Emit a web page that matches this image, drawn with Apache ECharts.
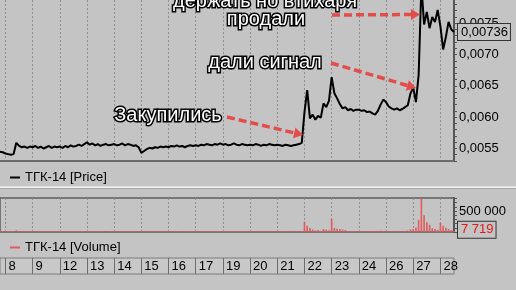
<!DOCTYPE html>
<html><head><meta charset="utf-8">
<script src="https://cdn.jsdelivr.net/npm/echarts@6/dist/echarts.min.js"></script>
<style>html,body{margin:0;padding:0;background:#c4c4c4}#c{width:516px;height:290px}</style>
</head><body><div id="c"></div>
<script>
// ---- tick labels (trading days) ----
const days = ['8','9','12','13','14','15','16','17','19','20','21','22','23','24','26','27','28'];
const preDay = '7';

// ---- price (close) per day ----
const pricePre = [0.00545, 0.00544];
const price08 = [0.00542, 0.00541, 0.00540, 0.00541, 0.00559, 0.00554, 0.00552, 0.00553, 0.00551, 0.00553];
const price09 = [0.00552, 0.00554, 0.00551, 0.00553, 0.00550, 0.00552, 0.00554, 0.00551, 0.00553, 0.00552];
const price12 = [0.00553, 0.00551, 0.00554, 0.00552, 0.00555, 0.00553, 0.00554, 0.00556, 0.00554, 0.00557];
const price13 = [0.00560, 0.00556, 0.00558, 0.00555, 0.00557, 0.00554, 0.00556, 0.00557, 0.00555, 0.00556];
const price14 = [0.00557, 0.00555, 0.00556, 0.00558, 0.00555, 0.00557, 0.00556, 0.00554, 0.00555, 0.00552];
const price15 = [0.00543, 0.00546, 0.00549, 0.00551, 0.00550, 0.00552, 0.00551, 0.00553, 0.00552, 0.00553];
const price16 = [0.00552, 0.00554, 0.00553, 0.00555, 0.00553, 0.00554, 0.00552, 0.00554, 0.00555, 0.00554];
const price17 = [0.00555, 0.00554, 0.00556, 0.00555, 0.00557, 0.00556, 0.00555, 0.00557, 0.00556, 0.00558];
const price19 = [0.00556, 0.00557, 0.00555, 0.00556, 0.00558, 0.00556, 0.00555, 0.00557, 0.00556, 0.00555];
const price20 = [0.00556, 0.00555, 0.00557, 0.00556, 0.00554, 0.00556, 0.00555, 0.00557, 0.00556, 0.00555];
const price21 = [0.00556, 0.00555, 0.00554, 0.00556, 0.00555, 0.00554, 0.00555, 0.00556, 0.00557, 0.00559];
const price22 = [0.00608, 0.00643, 0.00598, 0.00604, 0.00596, 0.00602, 0.00599, 0.00622, 0.00616, 0.00626];
const price23 = [0.00664, 0.00638, 0.00630, 0.00621, 0.00614, 0.00616, 0.00611, 0.00613, 0.00610, 0.00612];
const price24 = [0.00612, 0.00610, 0.00611, 0.00608, 0.00609, 0.00606, 0.00604, 0.00610, 0.00620, 0.00628];
const price26 = [0.00624, 0.00617, 0.00614, 0.00612, 0.00614, 0.00611, 0.00613, 0.00616, 0.00619, 0.00638];
const price27 = [0.00647, 0.00624, 0.00668, 0.00810, 0.00748, 0.00768, 0.00742, 0.00760, 0.00752, 0.00771];
const price28 = [0.00745, 0.00708, 0.00728, 0.00752, 0.00740, 0.00736];

// ---- volume per day ----
const volPre = [12000, 8000];
const vol08 = [9000, 6000, 14000, 5000, 38000, 11000, 7000, 9000, 4000, 8000];
const vol09 = [6000, 10000, 5000, 8000, 12000, 4000, 7000, 9000, 5000, 6000];
const vol12 = [8000, 5000, 11000, 6000, 9000, 13000, 5000, 7000, 10000, 15000];
const vol13 = [22000, 9000, 6000, 8000, 12000, 5000, 9000, 7000, 6000, 10000];
const vol14 = [7000, 9000, 14000, 6000, 8000, 5000, 10000, 7000, 12000, 18000];
const vol15 = [26000, 14000, 9000, 7000, 11000, 6000, 8000, 5000, 9000, 7000];
const vol16 = [6000, 8000, 5000, 9000, 7000, 10000, 6000, 8000, 5000, 7000];
const vol17 = [9000, 6000, 11000, 7000, 5000, 8000, 12000, 6000, 9000, 7000];
const vol19 = [8000, 5000, 7000, 10000, 6000, 9000, 5000, 8000, 11000, 6000];
const vol20 = [7000, 9000, 6000, 8000, 12000, 5000, 7000, 9000, 6000, 8000];
const vol21 = [10000, 7000, 9000, 6000, 8000, 11000, 7000, 9000, 14000, 20000];
const vol22 = [245000, 150000, 95000, 60000, 35000, 48000, 30000, 70000, 55000, 40000];
const vol23 = [310000, 95000, 80000, 70000, 60000, 45000, 25000, 15000, 12000, 10000];
const vol24 = [8000, 12000, 6000, 9000, 7000, 10000, 14000, 22000, 30000, 25000];
const vol26 = [30000, 18000, 12000, 9000, 14000, 10000, 16000, 22000, 35000, 60000];
const vol27 = [70000, 110000, 290000, 800000, 400000, 230000, 170000, 90000, 70000, 50000];
const vol28 = [215000, 150000, 100000, 70000, 45000, 7719];

const priceDays = [price08, price09, price12, price13, price14, price15, price16, price17, price19, price20, price21, price22, price23, price24, price26, price27, price28];
const volDays = [vol08, vol09, vol12, vol13, vol14, vol15, vol16, vol17, vol19, vol20, vol21, vol22, vol23, vol24, vol26, vol27, vol28];

const cats = [], price = [], volume = [], dayStart = new Set();
pricePre.forEach((v, k) => { cats.push(preDay + '/' + k); price.push(v); volume.push(volPre[k]); });
days.forEach((d, i) => {
  dayStart.add(cats.length);
  priceDays[i].forEach((v, k) => { cats.push(d + '/' + k); price.push(v); volume.push(volDays[i][k]); });
});
const lastPrice = price[price.length - 1];
const lastVol = volume[volume.length - 1];

const FONT = '"Liberation Sans", Arial, sans-serif';
const BG = '#c4c4c4';
const isDay = (idx) => dayStart.has(idx);
const fmtSpace = (n) => String(Math.round(n)).replace(/\B(?=(\d{3})+(?!\d))/g, ' ');

// annotation arrows
const RED = '#e44c4c';
function arrow(x1, y1, x2, y2) {
  const dx = x2 - x1, dy = y2 - y1, L = Math.hypot(dx, dy), ux = dx / L, uy = dy / L;
  const hl = 9, hw = 5.5, bx = x2 - ux * hl, by = y2 - uy * hl;
  return [
    { type: 'line', z: 100, shape: { x1, y1, x2: bx, y2: by }, style: { stroke: RED, lineWidth: 3.5, lineDash: [8, 4] } },
    { type: 'polygon', z: 100, shape: { points: [[x2, y2], [bx - uy * hw, by + ux * hw], [bx + uy * hw, by - ux * hw]] }, style: { fill: RED } }
  ];
}
function note(text, x, y) {
  return { type: 'text', z: 101, x, y, style: { text, font: '20px ' + FONT, fill: '#ffffff', stroke: '#000000', lineWidth: 3, strokeFirst: true, textAlign: 'center', textVerticalAlign: 'middle', align: 'center', verticalAlign: 'middle' } };
}

const chart = echarts.init(document.getElementById('c'), null, { renderer: 'canvas' });
chart.setOption({
  animation: false,
  backgroundColor: BG,
  textStyle: { fontFamily: FONT },
  grid: [
    { left: 0, right: 62, top: 0, height: 161 },
    { left: 0, right: 62, top: 198, height: 34, show: true, borderColor: '#5e5e5e', borderWidth: 1.5, backgroundColor: 'transparent' },
    { left: 0, right: 62, top: 258, height: 16, show: true, borderColor: '#7c7c7c', borderWidth: 1, backgroundColor: '#c8c8c8' }
  ],
  legend: [
    { data: ['ТГК-14 [Price]'], left: 10, top: 171, padding: 0, icon: 'rect', itemWidth: 10, itemHeight: 2, itemGap: 7, selectedMode: false, textStyle: { fontSize: 13, color: '#000', fontFamily: FONT } },
    { data: ['ТГК-14 [Volume]'], left: 10, top: 241, padding: 0, icon: 'rect', itemWidth: 10, itemHeight: 2, itemGap: 7, selectedMode: false, textStyle: { fontSize: 13, color: '#000', fontFamily: FONT } }
  ],
  xAxis: [
    { gridIndex: 0, type: 'category', data: cats, boundaryGap: false,
      axisLine: { show: true, lineStyle: { color: '#6a6a6a', width: 2 } }, axisTick: { show: false }, axisLabel: { show: false },
      splitLine: { show: true, interval: isDay, lineStyle: { color: '#8e8e8e', type: [2, 2], width: 1 } } },
    { gridIndex: 1, type: 'category', data: cats, boundaryGap: false,
      axisLine: { show: false }, axisTick: { show: false }, axisLabel: { show: false },
      splitLine: { show: true, interval: isDay, lineStyle: { color: '#8e8e8e', type: [2, 2], width: 1 } } },
    { gridIndex: 2, type: 'category', data: cats, boundaryGap: false,
      axisLine: { show: false }, axisTick: { show: false },
      axisLabel: { show: true, inside: true, interval: isDay, align: 'left', margin: 1, padding: [0, 0, 0, 3], fontSize: 13, color: '#000', fontFamily: FONT, formatter: (v) => v.split('/')[0] },
      splitLine: { show: true, interval: isDay, lineStyle: { color: '#6e6e6e', type: 'solid', width: 1 } } }
  ],
  yAxis: [
    { gridIndex: 0, type: 'value', position: 'right', min: 0.0053, max: 0.00787, interval: 0.0001,
      axisLine: { show: true, lineStyle: { color: '#555', width: 2 } },
      axisTick: { show: true, length: 3, lineStyle: { color: '#555' } },
      splitLine: { show: false },
      axisLabel: { margin: 5, fontSize: 13, color: '#000', fontFamily: FONT, showMinLabel: true, showMaxLabel: false,
        formatter: (v) => (Math.round(v * 10000) % 5 === 0 ? v.toFixed(4).replace('.', ',') : '') } },
    { gridIndex: 1, type: 'value', position: 'right', min: 0, max: 810000, interval: 100000,
      axisLine: { show: true, lineStyle: { color: '#555', width: 2 } },
      axisTick: { show: true, length: 3, lineStyle: { color: '#555' } },
      splitLine: { show: false },
      axisLabel: { margin: 5, fontSize: 13, color: '#000', fontFamily: FONT, showMaxLabel: false,
        formatter: (v) => (v === 500000 ? fmtSpace(v) : '') } },
    { gridIndex: 2, type: 'value', show: false }
  ],
  series: [
    { name: 'ТГК-14 [Price]', type: 'line', xAxisIndex: 0, yAxisIndex: 0, data: price, symbol: 'none',
      itemStyle: { color: '#000' }, lineStyle: { color: '#000', width: 2 }, clip: true },
    { name: 'ТГК-14 [Volume]', type: 'bar', xAxisIndex: 1, yAxisIndex: 1, data: volume, barWidth: 1.6, barMinHeight: 1,
      itemStyle: { color: '#e25a5a' } }
  ],
  graphic: [
    { type: 'rect', z: 50, shape: { x: 0, y: 186.5, width: 516, height: 1.5 }, style: { fill: '#f4f4f4' } },
    { type: 'rect', z: 50, shape: { x: 0, y: 188, width: 516, height: 1 }, style: { fill: '#a6a6a6' } },
    ...arrow(227, 117, 303, 135),
    ...arrow(331, 63, 416, 88),
    ...arrow(332, 15, 420, 14.5),
    note('держать но втихаря', 265, 1),
    note('продали', 266, 19),
    note('дали сигнал', 265, 62),
    note('Закупились', 168, 115)
  ]
});

// last-value boxes placed through the library's own scales
const lastCat = cats[cats.length - 1];
const xEnd = chart.convertToPixel({ xAxisIndex: 0 }, lastCat);
const yPrice = chart.convertToPixel({ yAxisIndex: 0 }, lastPrice);
const yVol = chart.convertToPixel({ yAxisIndex: 1 }, lastVol);
function valueBox(id, text, x, y, color) {
  return { id, type: 'text', z: 120, x, y, style: { text, font: '13px ' + FONT, fill: color, textAlign: 'left', textVerticalAlign: 'middle', align: 'left', verticalAlign: 'middle',
    backgroundColor: BG, borderColor: '#333', borderWidth: 1, padding: [2, 2, 1, 3] } };
}
chart.setOption({ graphic: [
  valueBox('lp', lastPrice.toFixed(5).replace('.', ','), xEnd + 4, yPrice, '#000'),
  valueBox('lv', fmtSpace(lastVol), xEnd + 4, yVol - 2, '#e01818')
] });
</script></body></html>
